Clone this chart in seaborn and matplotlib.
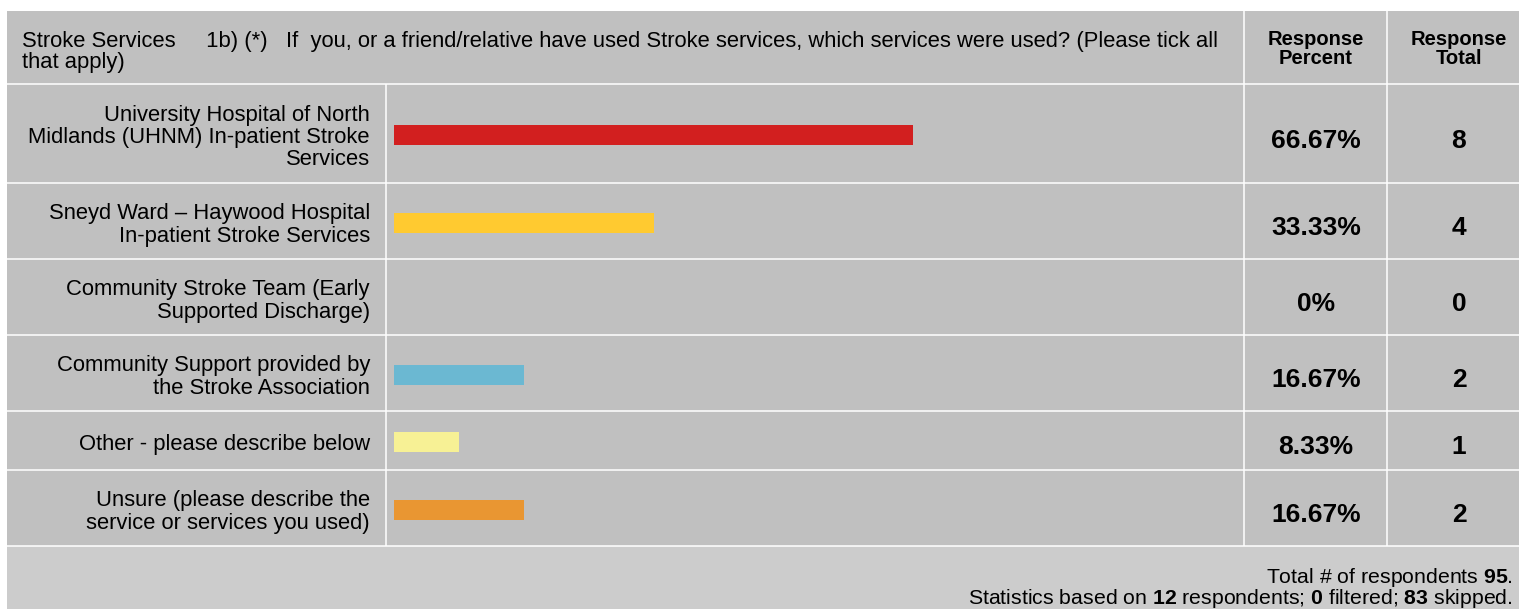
import matplotlib
matplotlib.use("Agg")
import pandas as pd
import matplotlib.pyplot as plt
from matplotlib.patches import Rectangle
import seaborn as sns

services = [
    "University Hospital of North\nMidlands (UHNM) In-patient Stroke\nServices",
    "Sneyd Ward \u2013 Haywood Hospital\nIn-patient Stroke Services",
    "Community Stroke Team (Early\nSupported Discharge)",
    "Community Support provided by\nthe Stroke Association",
    "Other - please describe below",
    "Unsure (please describe the\nservice or services you used)",
]
percent = [66.67, 33.33, 0, 16.67, 8.33, 16.67]
pct_labels = ["66.67%", "33.33%", "0%", "16.67%", "8.33%", "16.67%"]
totals = [8, 4, 0, 2, 1, 2]
bar_colors = ["#D21F1F", "#FFCA30", "#C0C0C0", "#6BB8D2", "#F7F195", "#E99632"]
question = ("Stroke Services     1b) (*)   If  you, or a friend/relative have used Stroke services, "
            "which services were used? (Please tick all\nthat apply)")
n_total = 95
n_answered = 12
n_filtered = 0
n_skipped = 83

plt.rcParams["font.family"] = ["Liberation Sans", "DejaVu Sans"]
plt.rcParams["mathtext.fontset"] = "custom"
plt.rcParams["mathtext.rm"] = "Liberation Sans"
plt.rcParams["mathtext.bf"] = "Liberation Sans:bold"

# layout in pixels
W, H = 1519, 609
left, top, header_bottom = 7, 11, 84
row_h = {1: 59, 2: 76, 3: 99}
col_label_r, col_pct_l, col_tot_l = 386, 1244, 1387
bar_x0, bar_x100 = 394, 1173
bar_h = 20
grey, footer_grey, line_c = "#C0C0C0", "#CCCCCC", "white"
fs_text = 15.8

bounds = [header_bottom]
for s in services:
    bounds.append(bounds[-1] + row_h[s.count("\n") + 1])
table_bottom = bounds[-1]
centers = [(a + b) / 2 for a, b in zip(bounds[:-1], bounds[1:])]

fig = plt.figure(figsize=(W / 100, H / 100), dpi=100)
tab = fig.add_axes([0, 0, 1, 1])
tab.set_xlim(0, W)
tab.set_ylim(H, 0)
tab.axis("off")

tab.add_patch(Rectangle((left, top), W - left, table_bottom - top, fc=grey, ec="none"))
tab.add_patch(Rectangle((left, table_bottom), W - left, H - table_bottom, fc=footer_grey, ec="none"))
tab.hlines(bounds, left, W, color=line_c, lw=1.1)
tab.vlines(col_label_r, header_bottom, table_bottom, color=line_c, lw=1.1)
tab.vlines([col_pct_l, col_tot_l], top, table_bottom, color=line_c, lw=1.1)

# bars
bx = fig.add_axes([bar_x0 / W, 0, (bar_x100 - bar_x0) / W, 1])
df = pd.DataFrame({"service": services, "percent": percent, "center": centers})
sns.barplot(data=df, x="percent", y="center", hue="service",
            palette=dict(zip(services, bar_colors)), orient="y", native_scale=True,
            saturation=1, errorbar=None, legend=False, ax=bx)
bx.set_xlim(0, 100)
bx.set_ylim(H, 0)
bx.axis("off")
bx.patch.set_alpha(0)
for p in bx.patches:
    cy = p.get_y() + p.get_height() / 2 + 1.5
    p.set_height(bar_h)
    p.set_y(cy - bar_h / 2)

# header
tab.text(22, 52, question, ha="left", va="center", fontsize=fs_text, linespacing=1.05)
tab.text(1316, 49, "Response\nPercent", ha="center", va="center", fontsize=14.5,
         fontweight="bold", linespacing=1.0)
tab.text(1459, 49, "Response\nTotal", ha="center", va="center", fontsize=14.5,
         fontweight="bold", linespacing=1.0)

# rows
for s, c, pl, t in zip(services, centers, pct_labels, totals):
    tab.text(370, c + 4, s, ha="right", va="center", fontsize=fs_text, linespacing=1.08)
    tab.text(1316, c + 14, pl, ha="center", va="baseline", fontsize=19, fontweight="bold")
    tab.text(1459, c + 14, str(t), ha="center", va="baseline", fontsize=19, fontweight="bold")

# footer
tab.text(1513, 583, rf"Total # of respondents $\mathbf{{{n_total}}}$.",
         ha="right", va="baseline", fontsize=15.3)
tab.text(1513, 604, rf"Statistics based on $\mathbf{{{n_answered}}}$ respondents; "
         rf"$\mathbf{{{n_filtered}}}$ filtered; $\mathbf{{{n_skipped}}}$ skipped.",
         ha="right", va="baseline", fontsize=15.3)

fig.savefig("out.png", dpi=100, facecolor="white")
